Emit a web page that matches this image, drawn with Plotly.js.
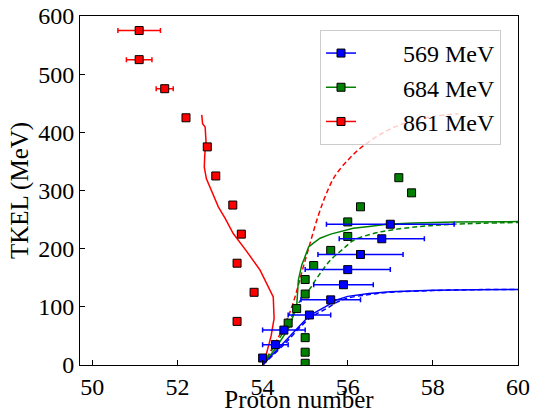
<!DOCTYPE html>
<html>
<head>
<meta charset="utf-8">
<script src="https://cdn.plot.ly/plotly-3.0.1.min.js"></script>
<style>html,body{margin:0;padding:0;background:#fff;}#chart{width:537px;height:413px;}</style>
</head>
<body>
<div id="chart"></div>
<script>
// Experimental data (proton number Z vs TKEL)
const zBlue    = [54.0, 54.3, 54.5, 55.1, 55.6, 55.9, 56.0, 56.3, 56.8, 57.0];
const tkelBlue = [12, 35, 60, 86, 112, 138, 164, 190, 217, 242];
const errBlue  = [0, 0.3, 0.5, 0.5, 0.7, 0.7, 1.0, 1.0, 1.0, 1.5];

const zGreen    = [55.0, 55.0, 55.0, 54.6, 54.8, 55.0, 55.0, 55.2, 55.6, 56.0, 56.0, 56.3, 57.5, 57.2];
const tkelGreen = [3, 22, 47, 72, 97, 122, 147, 171, 197, 221, 246, 272, 296, 322];
const errGreen  = [0, 0, 0, 0, 0, 0, 0, 0, 0, 0, 0, 0, 0, 0];

const zRed    = [51.1, 51.1, 51.7, 52.2, 52.7, 52.9, 53.3, 53.5, 53.4, 53.8, 53.4];
const tkelRed = [575, 525, 475, 425, 375, 325, 275, 225, 175, 125, 75];
const errRed  = [0.5, 0.3, 0.2, 0, 0, 0, 0, 0, 0, 0, 0];

// Theoretical curves
const blueSolidZ = [54.0, 54.5, 55.1, 55.47, 55.74, 56.0, 56.5, 57.0, 58.0, 59.0, 60.0];
const blueSolidT = [0, 39, 85, 100, 112, 118, 123, 126, 128.5, 129.5, 130];
const blueDashZ  = [54.0, 54.5, 55.1, 55.5, 55.75, 56.0, 56.5, 57.0, 58.0, 59.0, 60.0];
const blueDashT  = [0, 35, 80, 97, 108, 115, 121, 125, 128, 129.5, 130];

const greenSolidZ = [54.0, 54.3, 54.61, 54.8, 54.84, 54.92, 54.98, 55.08, 55.2, 55.35, 55.6, 56.13, 56.5, 56.92, 57.55, 58.49, 60.0];
const greenSolidT = [0, 28, 63, 100, 146, 172, 183, 203, 210, 218, 225, 235, 238, 242, 244, 246, 246.5];
const greenDashZ  = [54.0, 54.3, 54.6, 54.84, 55.1, 55.3, 55.59, 55.9, 56.13, 56.5, 56.92, 57.7, 58.49, 60.0];
const greenDashT  = [0, 35, 70, 106, 130, 152, 180, 200, 214, 224, 231, 238, 242, 245];

const redSolidZ = [52.57, 52.59, 52.65, 52.67, 52.64, 52.63, 52.68, 52.8, 52.96, 53.12, 53.31, 53.63, 53.94, 54.25, 54.27, 54.2, 54.1, 54.02];
const redSolidT = [430, 415, 409, 385, 360, 340, 320, 300, 272, 252, 226, 195, 163, 117, 80, 50, 22, 0];
const redDashZ  = [54.0, 54.6, 55.0, 55.3, 55.5, 55.7, 56.0, 56.3, 56.8, 57.3, 58.0, 58.6];
const redDashT  = [0, 83, 180, 255, 295, 325, 352, 373, 398, 415, 427, 432];

const labels = ['569 MeV', '684 MeV', '861 MeV'];
const colors = ['#0000ff', '#008000', '#ff0000'];

const FONT = 'Liberation Serif';
const PAD = '\u00a0\u00a0\u00a0\u00a0\u00a0\u00a0\u00a0';

function curve(x, y, color, dash, smooth) {
  return {x: x, y: y, type: 'scatter', mode: 'lines', showlegend: false, hoverinfo: 'skip',
          line: {color: color, width: 1.5, dash: dash ? '5px,3px' : 'solid',
                 shape: smooth ? 'spline' : 'linear', smoothing: 1}};
}
function pts(x, y, err, color) {
  return {x: x, y: y, type: 'scatter', mode: 'markers', showlegend: false,
          marker: {symbol: 'square', size: 8, color: color, line: {color: '#000', width: 1}},
          error_x: {type: 'data', array: err, visible: true, color: color, thickness: 1.5, width: 2.5}};
}
function legendItem(name, color) {
  return {x: [null], y: [null], type: 'scatter', mode: 'lines+markers', name: PAD + name,
          line: {color: color, width: 1.5},
          marker: {symbol: 'square', size: 8, color: color, line: {color: '#000', width: 1}}};
}

const data = [
  curve(redSolidZ, redSolidT, colors[2], false, false),
  curve(redDashZ, redDashT, colors[2], true, true),
  curve(greenSolidZ, greenSolidT, colors[1], false, false),
  curve(greenDashZ, greenDashT, colors[1], true, true),
  curve(blueSolidZ, blueSolidT, colors[0], false, false),
  curve(blueDashZ, blueDashT, colors[0], true, true),
  pts(zRed, tkelRed, errRed, colors[2]),
  pts(zGreen, tkelGreen, errGreen, colors[1]),
  pts(zBlue, tkelBlue, errBlue, colors[0]),
  legendItem(labels[0], colors[0]),
  legendItem(labels[1], colors[1]),
  legendItem(labels[2], colors[2])
];

const layout = {
  width: 537, height: 413,
  margin: {l: 80, r: 19, t: 16, b: 48},
  paper_bgcolor: '#fff', plot_bgcolor: '#fff',
  font: {family: FONT, color: '#000', size: 24},
  xaxis: {
    range: [49.71, 60], tickvals: [50, 52, 54, 56, 58, 60], ticks: 'inside', ticklen: 5,
    tickcolor: '#000', showline: true, linecolor: '#000', linewidth: 1, mirror: true,
    showgrid: false, zeroline: false, tickfont: {size: 24, family: FONT},
    title: {text: 'Proton number', font: {size: 25, family: FONT}, standoff: 0}
  },
  yaxis: {
    range: [0, 600], tickvals: [0, 100, 200, 300, 400, 500, 600], ticks: 'inside', ticklen: 5,
    tickcolor: '#000', showline: true, linecolor: '#000', linewidth: 1, mirror: true,
    showgrid: false, zeroline: false, tickfont: {size: 24, family: FONT},
    title: {text: 'TKEL (MeV)', font: {size: 25, family: FONT}, standoff: 2}
  },
  legend: {
    x: 0.548, y: 0.96, xanchor: 'left', yanchor: 'top',
    bgcolor: 'rgba(255,255,255,0.8)', bordercolor: '#cccccc', borderwidth: 1,
    font: {size: 24, family: FONT}
  },
  showlegend: true
};

Plotly.newPlot('chart', data, layout, {displayModeBar: false, staticPlot: true});
</script>
</body>
</html>
